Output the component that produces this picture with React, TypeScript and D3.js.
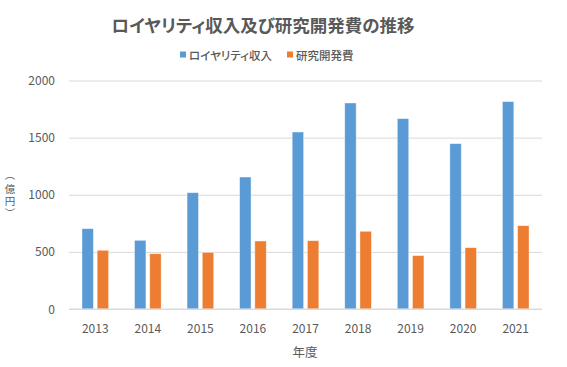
import React, { useRef, useEffect } from 'react';
import * as d3 from 'd3';

// Chart data
const years = ['2013', '2014', '2015', '2016', '2017', '2018', '2019', '2020', '2021'];
const royalty = [703, 601, 1018, 1155, 1549, 1803, 1666, 1447, 1815];
const rnd = [514, 484, 495, 595, 598, 680, 467, 537, 729];
const seriesNames = ['ロイヤリティ収入', '研究開発費'];
const seriesColors = ['#5B9BD5', '#ED7D31'];
const yTicks = [0, 500, 1000, 1500, 2000];
const yTitleChars = ['（', '億', '円', '）'];

const FONT = '"Noto Sans CJK JP", "Noto Sans", sans-serif';

const Chart = () => {
  const svgRef = useRef<SVGSVGElement>(null);

  useEffect(() => {
    if (!svgRef.current) return;
    const svg = d3.select(svgRef.current);
    svg.selectAll('*').remove();

    const W = 567, H = 367;
    const left = 69, right = 542, top = 80.5, bottom = 309;

    svg.attr('width', W).attr('height', H);

    svg.append('rect').attr('width', W).attr('height', H).attr('fill', '#fff');

    const x0 = d3.scaleBand<string>().domain(years).range([left, right]).padding(0);
    const bw = x0.bandwidth();
    const x1 = d3.scaleBand<string>()
      .domain(seriesNames)
      .range([bw / 2 - 13.3, bw / 2 + 13.3])
      .paddingInner(0.25)
      .paddingOuter(0);
    const y = d3.scaleLinear().domain([0, 2000]).range([bottom, top]);

    // Gridlines
    const yAxis = d3.axisLeft(y).tickValues(yTicks).tickSize(-(right - left)).tickFormat(() => '');
    const grid = svg.append('g').attr('transform', `translate(${left},0)`).call(yAxis);
    grid.select('.domain').remove();
    grid.selectAll('line').attr('stroke', '#d9d9d9').attr('stroke-width', 1);

    // Y tick labels
    svg.append('g')
      .selectAll('text')
      .data(yTicks)
      .enter().append('text')
      .attr('x', 55)
      .attr('y', d => y(d) + 4.5)
      .attr('text-anchor', 'end')
      .attr('font-size', 12)
      .attr('fill', '#595959')
      .attr('font-family', FONT)
      .text(d => d);

    // Bars
    const data = years.map((yr, i) => ({ yr, vals: [royalty[i], rnd[i]] }));
    const groups = svg.append('g')
      .selectAll('g')
      .data(data)
      .enter().append('g')
      .attr('transform', d => `translate(${x0(d.yr)},0)`);

    groups.selectAll('rect')
      .data(d => d.vals.map((v, j) => ({ v, j })))
      .enter().append('rect')
      .attr('x', d => x1(seriesNames[d.j]) || 0)
      .attr('width', x1.bandwidth())
      .attr('y', d => y(d.v))
      .attr('height', d => bottom - y(d.v))
      .attr('fill', d => seriesColors[d.j])
      .attr('stroke', '#ffffff')
      .attr('stroke-opacity', 0.5)
      .attr('stroke-width', 0.75);

    // Baseline
    svg.append('line')
      .attr('x1', left).attr('x2', right)
      .attr('y1', bottom).attr('y2', bottom)
      .attr('stroke', '#d9d9d9');

    // X tick labels
    svg.append('g')
      .selectAll('text')
      .data(years)
      .enter().append('text')
      .attr('x', d => (x0(d) || 0) + bw / 2)
      .attr('y', 333)
      .attr('text-anchor', 'middle')
      .attr('font-size', 12)
      .attr('fill', '#595959')
      .attr('font-family', FONT)
      .text(d => d);

    // Axis titles
    svg.append('text')
      .attr('x', 305).attr('y', 357)
      .attr('text-anchor', 'middle')
      .attr('font-size', 12.5)
      .attr('fill', '#595959')
      .attr('font-family', FONT)
      .text('年度');

    // Vertical y title, one glyph per row, brackets turned
    const yTitleY = [175, 188, 200.5, 213];
    svg.append('g')
      .selectAll('text')
      .data(yTitleChars)
      .enter().append('text')
      .attr('transform', (d, i) => {
        const rot = d === '（' || d === '）' ? ' rotate(90)' : '';
        return `translate(10,${yTitleY[i]})${rot}`;
      })
      .attr('text-anchor', 'middle')
      .attr('dominant-baseline', 'central')
      .attr('font-size', 10.5)
      .attr('fill', '#595959')
      .attr('font-family', FONT)
      .text(d => d);

    // Title
    svg.append('text')
      .attr('x', 263).attr('y', 32)
      .attr('text-anchor', 'middle')
      .attr('font-size', 17.5)
      .attr('font-weight', 'bold')
      .attr('fill', '#595959')
      .attr('font-family', FONT)
      .style('font-feature-settings', '"palt"')
      .text('ロイヤリティ収入及び研究開発費の推移');

    // Legend
    const legendX = [180, 287];
    const lg = svg.append('g')
      .selectAll('g')
      .data(seriesNames)
      .enter().append('g')
      .attr('transform', (d, i) => `translate(${legendX[i]},0)`);
    lg.append('rect')
      .attr('x', 0).attr('y', 51.5)
      .attr('width', 6).attr('height', 6)
      .attr('fill', (d, i) => seriesColors[i]);
    lg.append('text')
      .attr('x', 9).attr('y', 59.5)
      .attr('font-size', 11.5)
      .attr('font-weight', 500)
      .attr('fill', '#595959')
      .attr('font-family', FONT)
      .style('font-feature-settings', '"palt"')
      .text(d => d);
  }, []);

  return <svg ref={svgRef} style={{ position: 'absolute', left: 0, top: 0, display: 'block' }} />;
};

export default function App() {
  return <Chart />;
}
